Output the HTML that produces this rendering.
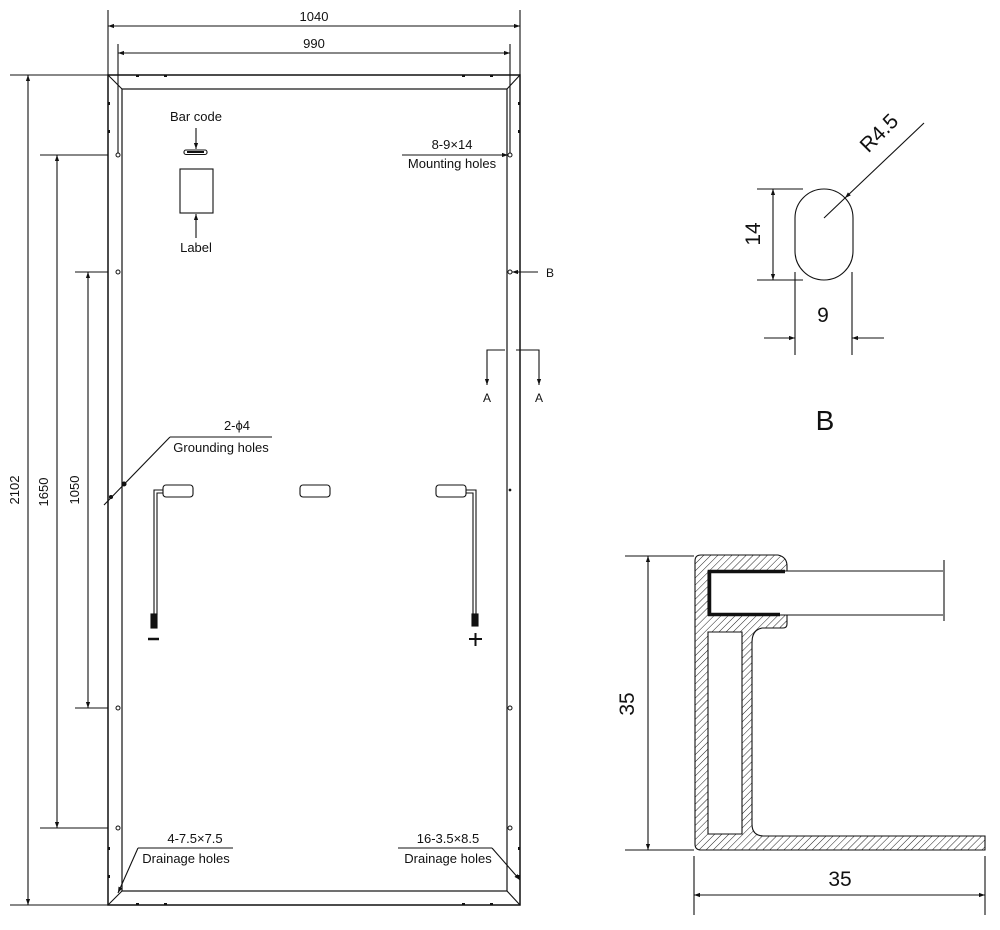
<!DOCTYPE html>
<html><head><meta charset="utf-8"><style>
html,body{margin:0;padding:0;background:#fff;}
svg{display:block;}
text{font-family:"Liberation Sans",Arial,sans-serif;fill:#111;}
</style></head><body>
<svg width="1000" height="930" viewBox="0 0 1000 930" xmlns="http://www.w3.org/2000/svg">
<defs>
<marker id="ar" viewBox="0 0 10 10" refX="10" refY="5" markerWidth="9" markerHeight="6" orient="auto-start-reverse" markerUnits="userSpaceOnUse"><path d="M0,1.5 L10,5 L0,8.5 z" fill="#111"/></marker>
<pattern id="hatch" patternUnits="userSpaceOnUse" width="5" height="5" patternTransform="rotate(45)"><line x1="0" y1="0" x2="0" y2="5" stroke="#222" stroke-width="1"/></pattern>
</defs>
<g stroke="#111" fill="none" stroke-width="1.1">
<!-- top dims -->
<line x1="108" y1="10" x2="108" y2="75"/><line x1="520" y1="10" x2="520" y2="75"/>
<line x1="108" y1="26" x2="520" y2="26" marker-start="url(#ar)" marker-end="url(#ar)"/>
<line x1="118" y1="44" x2="118" y2="153"/><line x1="510" y1="44" x2="510" y2="153"/>
<line x1="118" y1="53" x2="510" y2="53" marker-start="url(#ar)" marker-end="url(#ar)"/>
<!-- frame -->
<rect x="108" y="75" width="412" height="830" stroke-width="1.5"/>
<rect x="122" y="89" width="385" height="802" stroke-width="1.2"/>
<line x1="108" y1="75" x2="122" y2="89"/><line x1="520" y1="75" x2="507" y2="89"/>
<line x1="108" y1="905" x2="122" y2="891"/><line x1="520" y1="905" x2="507" y2="891"/>
<!-- edge ticks -->
<g fill="#111" stroke="none">
<rect x="108" y="102" width="2" height="3"/><rect x="108" y="130" width="2" height="3"/>
<rect x="518" y="102" width="2" height="3"/><rect x="518" y="130" width="2" height="3"/>
<rect x="108" y="847" width="2" height="3"/><rect x="108" y="875" width="2" height="3"/>
<rect x="518" y="847" width="2" height="3"/><rect x="518" y="875" width="2" height="3"/>
<rect x="136" y="75" width="3" height="2"/><rect x="164" y="75" width="3" height="2"/>
<rect x="462" y="75" width="3" height="2"/><rect x="490" y="75" width="3" height="2"/>
<rect x="136" y="903" width="3" height="2"/><rect x="164" y="903" width="3" height="2"/>
<rect x="462" y="903" width="3" height="2"/><rect x="490" y="903" width="3" height="2"/>
</g>
<!-- holes -->
<g stroke-width="1">
<circle cx="118" cy="155" r="2"/><circle cx="510" cy="155" r="2"/>
<circle cx="118" cy="272" r="2"/><circle cx="510" cy="272" r="2"/>
<circle cx="118" cy="708" r="2"/><circle cx="510" cy="708" r="2"/>
<circle cx="118" cy="828" r="2"/><circle cx="510" cy="828" r="2"/>
</g>
<!-- left dims -->
<line x1="10" y1="75" x2="108" y2="75"/><line x1="10" y1="905" x2="108" y2="905"/>
<line x1="28" y1="75" x2="28" y2="905" marker-start="url(#ar)" marker-end="url(#ar)"/>
<line x1="40" y1="155" x2="108" y2="155"/><line x1="40" y1="828" x2="108" y2="828"/>
<line x1="57" y1="155" x2="57" y2="828" marker-start="url(#ar)" marker-end="url(#ar)"/>
<line x1="75" y1="272" x2="108" y2="272"/><line x1="75" y1="708" x2="108" y2="708"/>
<line x1="88" y1="272" x2="88" y2="708" marker-start="url(#ar)" marker-end="url(#ar)"/>
<!-- barcode / label -->
<rect x="184" y="150" width="23" height="4.5" rx="2"/>
<line x1="187" y1="152" x2="204" y2="152" stroke-width="2"/>
<line x1="196" y1="128" x2="196" y2="149" marker-end="url(#ar)"/>
<rect x="180" y="169" width="33" height="44"/>
<line x1="196" y1="238" x2="196" y2="214" marker-end="url(#ar)"/>
<!-- mounting label -->
<line x1="402" y1="155" x2="508" y2="155" marker-end="url(#ar)"/>
<!-- B marker -->
<line x1="538" y1="272" x2="512" y2="272" marker-end="url(#ar)"/>
<!-- A section -->
<polyline points="505,350 487,350 487,385" marker-end="url(#ar)"/>
<polyline points="516,350 539,350 539,385" marker-end="url(#ar)"/>
<!-- grounding -->
<line x1="170" y1="437" x2="272" y2="437"/>
<line x1="170" y1="437" x2="104" y2="505"/>
<circle cx="124" cy="484" r="2" fill="#111"/><circle cx="111" cy="497" r="1.5" fill="#111"/>
<!-- junction boxes -->
<rect x="163" y="485" width="30" height="12" rx="3"/>
<rect x="300" y="485" width="30" height="12" rx="3"/>
<rect x="436" y="485" width="30" height="12" rx="3"/>
<polyline points="163,490 154,490 154,615"/><polyline points="163,493 157,493 157,615"/>
<polyline points="466,490 476,490 476,615"/><polyline points="466,493 473,493 473,615"/>
<rect x="151" y="614" width="6" height="14" fill="#111"/>
<rect x="472" y="614" width="6" height="12" fill="#111"/>
<line x1="148" y1="639" x2="159" y2="639" stroke-width="2.5"/>
<line x1="469" y1="639" x2="482" y2="639" stroke-width="2"/><line x1="475.5" y1="633" x2="475.5" y2="646" stroke-width="2"/>
<circle cx="510" cy="490" r="0.8" fill="#111"/>
<!-- drainage -->
<line x1="138" y1="848" x2="233" y2="848"/>
<line x1="138" y1="848" x2="118" y2="893" marker-end="url(#ar)"/>
<line x1="398" y1="848" x2="492" y2="848"/>
<line x1="492" y1="848" x2="520" y2="880" marker-end="url(#ar)"/>
<!-- detail B -->
<rect x="795" y="189" width="58" height="91" rx="29" ry="29"/>
<line x1="757" y1="189" x2="803" y2="189"/><line x1="757" y1="280" x2="803" y2="280"/>
<line x1="773" y1="189" x2="773" y2="280" marker-start="url(#ar)" marker-end="url(#ar)"/>
<line x1="795" y1="272" x2="795" y2="355"/><line x1="852" y1="272" x2="852" y2="355"/>
<line x1="764" y1="338" x2="795" y2="338" marker-end="url(#ar)"/>
<line x1="884" y1="338" x2="852" y2="338" marker-end="url(#ar)"/>
<line x1="924" y1="123" x2="845" y2="198" marker-end="url(#ar)"/>
<line x1="845" y1="198" x2="824" y2="218"/>
<!-- section -->
<path d="M695,561 Q695,555 701,555 L778,555 Q787,557 787,566 L787,571 L708,571 L708,615 L787,615 L787,624 Q787,628 783,628 L762,628 Q752,630 752,642 L752,824 Q752,836 764,836 L985,836 L985,850 L701,850 Q695,850 695,844 Z M708,632 L742,632 L742,834 L708,834 Z" fill="url(#hatch)" fill-rule="evenodd" stroke="#111" stroke-width="1.1"/>
<polyline points="785,571.5 709.5,571.5 709.5,614.5 780,614.5" stroke-width="3.5"/>
<line x1="708" y1="571" x2="943" y2="571"/><line x1="708" y1="615" x2="943" y2="615"/>
<line x1="944" y1="560" x2="944" y2="621"/>
<line x1="625" y1="556" x2="694" y2="556"/><line x1="625" y1="850" x2="694" y2="850"/>
<line x1="648" y1="556" x2="648" y2="850" marker-start="url(#ar)" marker-end="url(#ar)"/>
<line x1="694" y1="856" x2="694" y2="915"/><line x1="985" y1="856" x2="985" y2="915"/>
<line x1="694" y1="895" x2="985" y2="895" marker-start="url(#ar)" marker-end="url(#ar)"/>
</g>
<!-- texts -->
<text x="314" y="21" font-size="13" text-anchor="middle">1040</text>
<text x="314" y="48" font-size="13" text-anchor="middle">990</text>
<text x="196" y="121" font-size="13" text-anchor="middle">Bar code</text>
<text x="196" y="252" font-size="13" text-anchor="middle">Label</text>
<text x="452" y="149" font-size="13" text-anchor="middle">8-9×14</text>
<text x="452" y="168" font-size="13" text-anchor="middle">Mounting holes</text>
<text x="546" y="277" font-size="12">B</text>
<text x="487" y="402" font-size="12" text-anchor="middle">A</text>
<text x="539" y="402" font-size="12" text-anchor="middle">A</text>
<text x="237" y="430" font-size="13" text-anchor="middle">2-ϕ4</text>
<text x="221" y="452" font-size="13" text-anchor="middle">Grounding holes</text>
<text x="195" y="843" font-size="13" text-anchor="middle">4-7.5×7.5</text>
<text x="186" y="863" font-size="13" text-anchor="middle">Drainage holes</text>
<text x="448" y="843" font-size="13" text-anchor="middle">16-3.5×8.5</text>
<text x="448" y="863" font-size="13" text-anchor="middle">Drainage holes</text>
<text transform="translate(19,490) rotate(-90)" font-size="13" text-anchor="middle">2102</text>
<text transform="translate(48,492) rotate(-90)" font-size="13" text-anchor="middle">1650</text>
<text transform="translate(79,490) rotate(-90)" font-size="13" text-anchor="middle">1050</text>
<text transform="translate(760,234) rotate(-90)" font-size="21" text-anchor="middle">14</text>
<text x="823" y="322" font-size="21" text-anchor="middle">9</text>
<text transform="translate(884,138) rotate(-45)" font-size="21" text-anchor="middle">R4.5</text>
<text x="825" y="430" font-size="28" text-anchor="middle">B</text>
<text transform="translate(634,704) rotate(-90)" font-size="21" text-anchor="middle">35</text>
<text x="840" y="886" font-size="21" text-anchor="middle">35</text>
</svg>
</body></html>
